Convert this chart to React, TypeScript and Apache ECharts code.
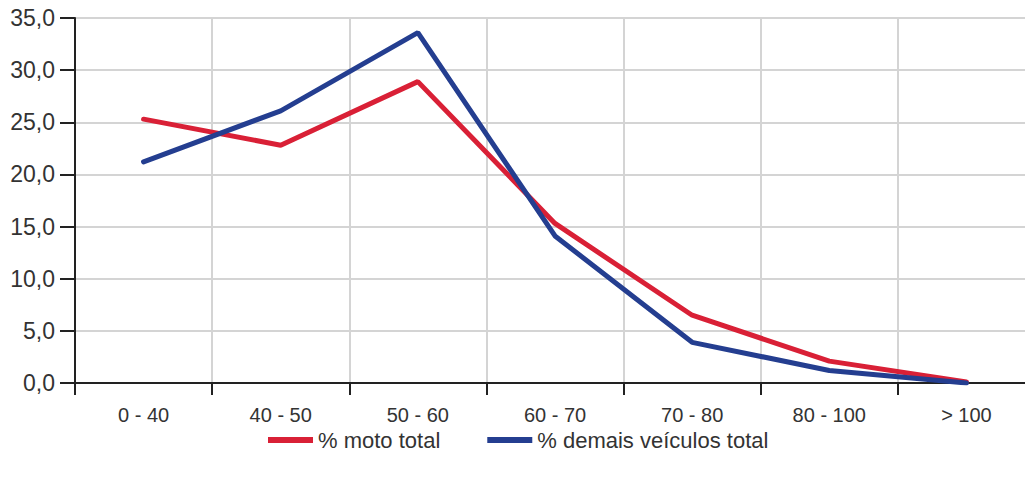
import React, { useEffect, useRef } from "react";
import * as echarts from "echarts";

const categories = ["0 - 40", "40 - 50", "50 - 60", "60 - 70", "70 - 80", "80 - 100", "> 100"];
const motoTotal = [25.3, 22.8, 28.9, 15.3, 6.5, 2.1, 0.1];
const demaisTotal = [21.2, 26.1, 33.6, 14.1, 3.9, 1.2, 0.0];
const seriesNames = ["% moto total", "% demais veículos total"];
const colors = ["#d92036", "#243e90"];

export default function App() {
  const ref = useRef<HTMLDivElement>(null);
  useEffect(() => {
    if (!ref.current) return;
    const chart = echarts.init(ref.current, null, { renderer: "svg" });
    const font = "'Liberation Sans', Arial, sans-serif";
    chart.setOption({
      animation: false,
      textStyle: { fontFamily: font },
      grid: {
        left: 75,
        top: 18,
        width: 960,
        height: 365,
        containLabel: false,
        outerBoundsMode: "none",
      },
      legend: {
        left: 263,
        top: 424,
        itemGap: 47,
        itemWidth: 45,
        itemHeight: 6,
        icon: "rect",
        textStyle: { fontSize: 22, color: "#333", fontFamily: font },
        data: seriesNames,
      },
      xAxis: {
        type: "category",
        data: categories,
        boundaryGap: true,
        axisLine: { show: true, lineStyle: { color: "#222", width: 2 } },
        axisTick: { show: true, length: 12, lineStyle: { color: "#222", width: 2 } },
        axisLabel: { fontSize: 20, color: "#333", margin: 22, fontFamily: font },
        splitLine: { show: true, lineStyle: { color: "#d4d4d4", width: 2 } },
      },
      yAxis: {
        type: "value",
        min: 0,
        max: 35,
        interval: 5,
        axisLine: { show: true, lineStyle: { color: "#222", width: 2 } },
        axisTick: { show: true, inside: false, length: 15, lineStyle: { color: "#222", width: 2 } },
        axisLabel: {
          fontSize: 23,
          color: "#333",
          margin: 20,
          fontFamily: font,
          formatter: (v: number) => v.toFixed(1).replace(".", ","),
        },
        splitLine: { show: true, lineStyle: { color: "#d4d4d4", width: 2 } },
      },
      series: [
        {
          name: seriesNames[0],
          type: "line",
          data: motoTotal,
          symbol: "none",
          color: colors[0],
          lineStyle: { color: colors[0], width: 5, cap: "round" },
        },
        {
          name: seriesNames[1],
          type: "line",
          data: demaisTotal,
          symbol: "none",
          color: colors[1],
          lineStyle: { color: colors[1], width: 5, cap: "round" },
        },
      ],
    });
    return () => chart.dispose();
  }, []);
  return (
    <div
      ref={ref}
      style={{ position: "fixed", left: 0, top: 0, width: 1025, height: 477, background: "#fff" }}
    />
  );
}
